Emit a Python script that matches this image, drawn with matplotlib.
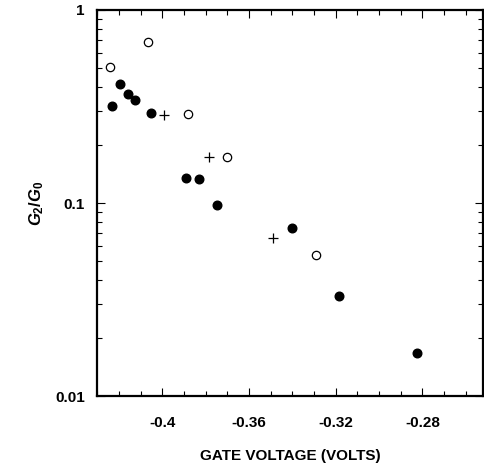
import matplotlib
matplotlib.use("Agg")
import matplotlib.pyplot as plt
from matplotlib.ticker import MultipleLocator, LogLocator, NullFormatter, FixedLocator

plt.rcParams['font.family'] = ['Liberation Sans', 'DejaVu Sans']
plt.rcParams['mathtext.fontset'] = 'custom'
plt.rcParams['mathtext.rm'] = 'Liberation Sans:bold'
plt.rcParams['mathtext.it'] = 'Liberation Sans:bold:italic'
plt.rcParams['mathtext.bf'] = 'Liberation Sans:bold'

# Data
filled_x = [-0.4231, -0.4198, -0.4158, -0.4128, -0.4051, -0.3892, -0.3831, -0.3748, -0.3403, -0.3183, -0.2823]
filled_y = [0.320, 0.413, 0.367, 0.343, 0.292, 0.135, 0.133, 0.098, 0.074, 0.0333, 0.0168]
open_x = [-0.4243, -0.4069, -0.3881, -0.3701, -0.3293]
open_y = [0.507, 0.686, 0.291, 0.174, 0.0537]
plus_x = [-0.3994, -0.3783, -0.3492]
plus_y = [0.287, 0.174, 0.0658]

x_ticks = [-0.4, -0.36, -0.32, -0.28]
x_ticklabels = ['-0.4', '-0.36', '-0.32', '-0.28']
y_ticks = [0.01, 0.1, 1]
y_ticklabels = ['0.01', '0.1', '1']

fig = plt.figure(figsize=(4.85, 4.68), dpi=100)
ax = fig.add_axes([0.201, 0.1528, 0.795, 0.826])

ax.plot(filled_x, filled_y, 'o', color='black', markersize=6.2, linestyle='none')
ax.plot(open_x, open_y, 'o', markerfacecolor='white', markeredgecolor='black',
        markeredgewidth=0.9, markersize=6.0, linestyle='none')
ax.plot(plus_x, plus_y, '+', color='black', markersize=7, markeredgewidth=0.9, linestyle='none')

ax.set_yscale('log')
ax.set_xlim(-0.43, -0.252)
ax.set_ylim(0.01, 1)

ax.xaxis.set_major_locator(FixedLocator(x_ticks))
ax.set_xticklabels(x_ticklabels)
ax.xaxis.set_minor_locator(MultipleLocator(0.01))
ax.yaxis.set_major_locator(FixedLocator(y_ticks))
ax.set_yticklabels(y_ticklabels)
ax.yaxis.set_minor_locator(LogLocator(base=10, subs=range(2, 10)))
ax.yaxis.set_minor_formatter(NullFormatter())

ax.tick_params(which='both', direction='in', top=True, right=True, width=0.8)
ax.tick_params(which='major', length=6, labelsize=11, pad=9)
ax.tick_params(axis='x', which='major', pad=14)
ax.tick_params(which='minor', length=3.5)
for lab in ax.get_xticklabels() + ax.get_yticklabels():
    lab.set_fontweight('bold')

for s in ax.spines.values():
    s.set_linewidth(1.6)

ax.set_xlabel('GATE VOLTAGE (VOLTS)', fontsize=11, fontweight='bold', labelpad=14)
ax.set_ylabel(r'$G_{2}/G_{0}$', fontsize=12, labelpad=7)

fig.savefig('out.png', dpi=100)
